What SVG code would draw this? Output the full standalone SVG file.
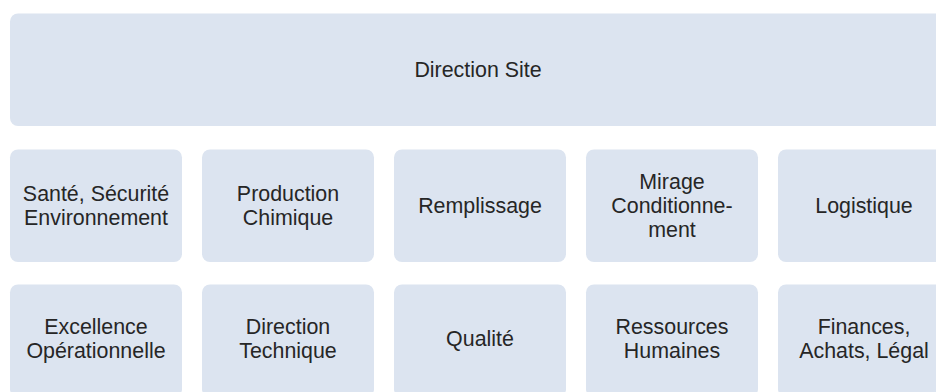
<svg xmlns="http://www.w3.org/2000/svg" width="936" height="392" viewBox="0 0 936 392">
<style>
.box{fill:#dce4f0;}
.t{font-family:"Liberation Sans",Arial,sans-serif;font-size:21.4px;fill:#262626;text-anchor:middle;}
</style>
<rect width="936" height="392" fill="#ffffff"/>
<g id="connectors"/>
<g id="direction-site"><rect class="box" x="10" y="13.5" width="936" height="112.5" rx="8"/><text class="t" x="478" y="76.5">Direction Site</text></g>
<g id="sante"><rect class="box" x="10" y="149.5" width="172" height="112.5" rx="8"/><text class="t" x="96" y="200.5">Santé, Sécurité</text><text class="t" x="96" y="224.5">Environnement</text></g>
<g id="production"><rect class="box" x="202" y="149.5" width="172" height="112.5" rx="8"/><text class="t" x="288" y="200.5">Production</text><text class="t" x="288" y="224.5">Chimique</text></g>
<g id="remplissage"><rect class="box" x="394" y="149.5" width="172" height="112.5" rx="8"/><text class="t" x="480" y="212.5">Remplissage</text></g>
<g id="mirage"><rect class="box" x="586" y="149.5" width="172" height="112.5" rx="8"/><text class="t" x="672" y="188.5">Mirage</text><text class="t" x="672" y="212.5">Conditionne-</text><text class="t" x="672" y="236.5">ment</text></g>
<g id="logistique"><rect class="box" x="778" y="149.5" width="172" height="112.5" rx="8"/><text class="t" x="864" y="212.5">Logistique</text></g>
<g id="excellence"><rect class="box" x="10" y="284.5" width="172" height="112.5" rx="8"/><text class="t" x="96" y="333.5">Excellence</text><text class="t" x="96" y="357.5">Opérationnelle</text></g>
<g id="direction-technique"><rect class="box" x="202" y="284.5" width="172" height="112.5" rx="8"/><text class="t" x="288" y="333.5">Direction</text><text class="t" x="288" y="357.5">Technique</text></g>
<g id="qualite"><rect class="box" x="394" y="284.5" width="172" height="112.5" rx="8"/><text class="t" x="480" y="345.5">Qualité</text></g>
<g id="rh"><rect class="box" x="586" y="284.5" width="172" height="112.5" rx="8"/><text class="t" x="672" y="333.5">Ressources</text><text class="t" x="672" y="357.5">Humaines</text></g>
<g id="finances"><rect class="box" x="778" y="284.5" width="172" height="112.5" rx="8"/><text class="t" x="864" y="333.5">Finances,</text><text class="t" x="864" y="357.5">Achats, Légal</text></g>
</svg>
